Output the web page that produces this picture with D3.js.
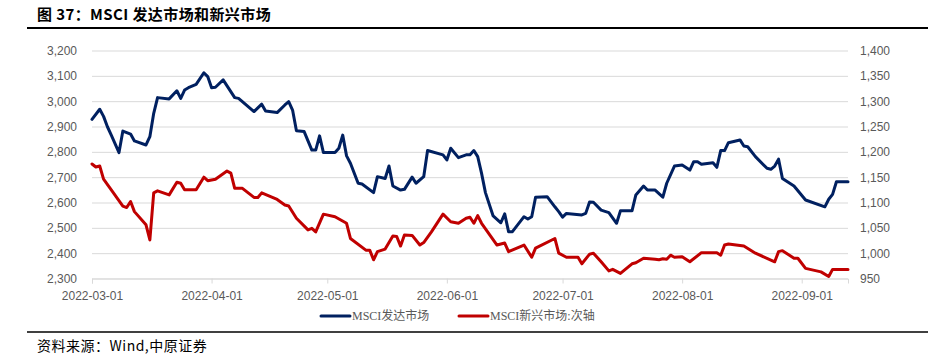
<!DOCTYPE html>
<html>
<head>
<meta charset="utf-8">
<script src="https://cdn.jsdelivr.net/npm/d3@7/dist/d3.min.js"></script>
<style>
  html, body { margin: 0; padding: 0; background: #fff; }
  svg { display: block; }
</style>
</head>
<body>
<svg id="chart" width="928" height="357"></svg>
<script>
// ---------- DATA ----------
const titleText = "图 37：MSCI 发达市场和新兴市场";
const sourceText = "资料来源：Wind,中原证券";
const seriesNames = ["MSCI发达市场", "MSCI新兴市场:次轴"];
const xTickDates = ["2022-03-01","2022-04-01","2022-05-01","2022-06-01","2022-07-01","2022-08-01","2022-09-01"];
const leftTicks = [2300,2400,2500,2600,2700,2800,2900,3000,3100,3200];
const rightTicks = [950,1000,1050,1100,1150,1200,1250,1300,1350,1400];

const developed = [
["2022-03-01",2928],["2022-03-03",2968],["2022-03-04",2940],["2022-03-05",2899],["2022-03-06",2866],
["2022-03-08",2797],["2022-03-09",2882],["2022-03-11",2870],["2022-03-12",2843],["2022-03-15",2827],
["2022-03-16",2860],["2022-03-17",2952],["2022-03-18",3014],["2022-03-21",3009],["2022-03-23",3041],
["2022-03-24",3011],["2022-03-25",3044],["2022-03-26",3053],["2022-03-28",3066],["2022-03-30",3112],
["2022-03-31",3097],["2022-04-01",3053],["2022-04-02",3055],["2022-04-04",3084],["2022-04-07",3014],
["2022-04-08",3011],["2022-04-12",2959],["2022-04-14",2988],["2022-04-15",2961],["2022-04-18",2955],
["2022-04-20",2985],["2022-04-21",2998],["2022-04-22",2965],["2022-04-23",2883],["2022-04-25",2880],
["2022-04-27",2807],["2022-04-28",2807],["2022-04-29",2863],["2022-04-30",2797],["2022-05-03",2797],
["2022-05-04",2814],["2022-05-05",2866],["2022-05-06",2784],["2022-05-07",2755],["2022-05-09",2676],
["2022-05-10",2673],["2022-05-13",2639],["2022-05-14",2702],["2022-05-16",2695],["2022-05-17",2744],
["2022-05-18",2665],["2022-05-20",2649],["2022-05-21",2652],["2022-05-23",2700],["2022-05-24",2676],
["2022-05-26",2702],["2022-05-27",2805],["2022-05-31",2788],["2022-06-01",2768],["2022-06-02",2814],
["2022-06-04",2777],["2022-06-06",2788],["2022-06-07",2788],["2022-06-08",2805],["2022-06-09",2781],
["2022-06-10",2715],["2022-06-11",2639],["2022-06-13",2547],["2022-06-15",2520],["2022-06-16",2555],
["2022-06-17",2485],["2022-06-18",2485],["2022-06-21",2544],["2022-06-22",2535],["2022-06-23",2544],
["2022-06-24",2621],["2022-06-27",2623],["2022-06-29",2583],["2022-06-30",2564],["2022-07-01",2542],
["2022-07-02",2557],["2022-07-06",2551],["2022-07-07",2557],["2022-07-08",2602],["2022-07-09",2601],
["2022-07-11",2570],["2022-07-13",2560],["2022-07-15",2518],["2022-07-16",2567],["2022-07-19",2567],
["2022-07-20",2630],["2022-07-22",2665],["2022-07-23",2649],["2022-07-25",2649],["2022-07-27",2621],
["2022-07-28",2676],["2022-07-30",2744],["2022-08-01",2748],["2022-08-03",2728],["2022-08-04",2761],
["2022-08-05",2761],["2022-08-06",2751],["2022-08-09",2757],["2022-08-10",2739],["2022-08-11",2805],
["2022-08-12",2805],["2022-08-13",2836],["2022-08-16",2847],["2022-08-17",2823],["2022-08-18",2820],
["2022-08-20",2781],["2022-08-23",2735],["2022-08-24",2731],["2022-08-25",2744],["2022-08-26",2771],
["2022-08-27",2695],["2022-08-30",2665],["2022-09-02",2610],["2022-09-07",2583],["2022-09-08",2613],
["2022-09-09",2632],["2022-09-10",2682],["2022-09-13",2682]
];

const emerging = [
["2022-03-01",1176],["2022-03-02",1170],["2022-03-03",1172],["2022-03-04",1146],["2022-03-06",1125],
["2022-03-09",1093],["2022-03-10",1090],["2022-03-11",1102],["2022-03-12",1082],["2022-03-15",1056],
["2022-03-16",1026],["2022-03-17",1119],["2022-03-18",1123],["2022-03-21",1115],["2022-03-23",1140],
["2022-03-24",1138],["2022-03-25",1125],["2022-03-28",1125],["2022-03-30",1150],["2022-03-31",1143],
["2022-04-02",1146],["2022-04-05",1162],["2022-04-06",1158],["2022-04-07",1128],["2022-04-09",1128],
["2022-04-12",1110],["2022-04-13",1110],["2022-04-14",1119],["2022-04-18",1106],["2022-04-20",1095],
["2022-04-21",1093],["2022-04-23",1069],["2022-04-26",1046],["2022-04-27",1049],["2022-04-28",1042],
["2022-04-30",1077],["2022-05-03",1072],["2022-05-06",1059],["2022-05-07",1029],["2022-05-11",1006],
["2022-05-12",1006],["2022-05-13",987],["2022-05-14",1003],["2022-05-16",1008],["2022-05-18",1034],
["2022-05-19",1033],["2022-05-20",1014],["2022-05-21",1036],["2022-05-23",1035],["2022-05-25",1016],
["2022-05-26",1021],["2022-05-28",1042],["2022-05-31",1077],["2022-06-02",1062],["2022-06-04",1059],
["2022-06-06",1069],["2022-06-07",1071],["2022-06-08",1059],["2022-06-09",1074],["2022-06-10",1059],
["2022-06-14",1016],["2022-06-16",1020],["2022-06-17",1003],["2022-06-21",1016],["2022-06-23",992],
["2022-06-24",1010],["2022-06-29",1029],["2022-06-30",1000],["2022-07-02",992],["2022-07-05",992],
["2022-07-06",979],["2022-07-08",998],["2022-07-09",1000],["2022-07-11",983],["2022-07-13",965],
["2022-07-14",968],["2022-07-16",960],["2022-07-19",979],["2022-07-20",981],["2022-07-22",990],
["2022-07-25",988],["2022-07-26",987],["2022-07-27",989],["2022-07-28",988],["2022-07-29",996],
["2022-07-30",992],["2022-08-01",993],["2022-08-03",983],["2022-08-06",1001],["2022-08-10",1001],
["2022-08-11",996],["2022-08-12",1016],["2022-08-13",1018],["2022-08-17",1014],["2022-08-20",1000],
["2022-08-25",983],["2022-08-26",1003],["2022-08-27",1005],["2022-08-30",990],["2022-08-31",990],
["2022-09-02",970],["2022-09-06",963],["2022-09-08",954],["2022-09-09",968],["2022-09-13",968]
];

// ---------- CHART ----------
const parse = d3.timeParse("%Y-%m-%d");
const svg = d3.select("#chart");
const W = 928, H = 357;
const plot = { left: 92, right: 848, top: 50.5, bottom: 278.5 };
const colors = ["#002060", "#C00000"];
const labelColor = "#595959";
const sansFont = "'Liberation Sans', Arial, sans-serif";

const x = d3.scaleTime()
  .domain([parse("2022-03-01"), parse("2022-09-13")])
  .range([plot.left, plot.right]);
const yL = d3.scaleLinear().domain([2300, 3200]).range([plot.bottom, plot.top]);
const yR = d3.scaleLinear().domain([950, 1400]).range([plot.bottom, plot.top]);

// Title
svg.append("text")
  .attr("x", 37).attr("y", 20)
  .attr("font-family", "'Noto Sans CJK SC', sans-serif")
  .attr("font-weight", "bold")
  .attr("font-size", 15)
  .attr("letter-spacing", 0.4)
  .attr("fill", "#000")
  .text(titleText);
svg.append("line")
  .attr("x1", 27).attr("x2", W).attr("y1", 28).attr("y2", 28)
  .attr("stroke", "#000").attr("stroke-width", 2);

// Gridlines (left axis)
svg.append("g")
  .attr("transform", `translate(${plot.left},0)`)
  .call(d3.axisLeft(yL).tickValues(leftTicks).tickSize(-(plot.right - plot.left)).tickFormat(""))
  .call(g => g.select(".domain").remove())
  .call(g => g.selectAll("line").attr("stroke", "#d9d9d9").attr("stroke-width", 1));

// Left tick labels
svg.append("g")
  .attr("transform", `translate(${plot.left},0)`)
  .call(d3.axisLeft(yL).tickValues(leftTicks).tickSize(0).tickPadding(15).tickFormat(d3.format(",")))
  .call(g => g.select(".domain").remove())
  .call(g => g.selectAll("text").attr("fill", labelColor).attr("font-size", 12).attr("font-family", sansFont));

// Right tick labels
svg.append("g")
  .attr("transform", `translate(${plot.right},0)`)
  .call(d3.axisRight(yR).tickValues(rightTicks).tickSize(0).tickPadding(12).tickFormat(d3.format(",")))
  .call(g => g.select(".domain").remove())
  .call(g => g.selectAll("text").attr("fill", labelColor).attr("font-size", 12).attr("font-family", sansFont));

// X axis
svg.append("g")
  .attr("transform", `translate(0,${plot.bottom})`)
  .call(d3.axisBottom(x).tickValues(xTickDates.map(parse)).tickSize(5).tickPadding(8).tickFormat(d3.timeFormat("%Y-%m-%d")))
  .call(g => g.select(".domain").attr("stroke", "#d9d9d9"))
  .call(g => g.selectAll(".tick line").attr("stroke", "#d9d9d9"))
  .call(g => g.selectAll("text").attr("fill", labelColor).attr("font-size", 12).attr("font-family", sansFont));

// Lines
const lineL = d3.line().x(d => x(parse(d[0]))).y(d => yL(d[1]));
const lineR = d3.line().x(d => x(parse(d[0]))).y(d => yR(d[1]));

svg.append("path").datum(emerging)
  .attr("d", lineR).attr("fill", "none")
  .attr("stroke", colors[1]).attr("stroke-width", 3)
  .attr("stroke-linejoin", "round").attr("stroke-linecap", "round");
svg.append("path").datum(developed)
  .attr("d", lineL).attr("fill", "none")
  .attr("stroke", colors[0]).attr("stroke-width", 3)
  .attr("stroke-linejoin", "round").attr("stroke-linecap", "round");

// Legend
const legendItems = [
  { name: seriesNames[0], color: colors[0], x: 321 },
  { name: seriesNames[1], color: colors[1], x: 459 }
];
const lg = svg.append("g");
legendItems.forEach(it => {
  lg.append("line")
    .attr("x1", it.x).attr("x2", it.x + 29).attr("y1", 316).attr("y2", 316)
    .attr("stroke", it.color).attr("stroke-width", 3).attr("stroke-linecap", "round");
  lg.append("text")
    .attr("x", it.x + 31).attr("y", 320)
    .attr("font-family", "'Liberation Serif', 'Noto Sans CJK SC', serif")
    .attr("font-size", 12)
    .attr("fill", labelColor)
    .text(it.name);
});

// Source
svg.append("line")
  .attr("x1", 27).attr("x2", W).attr("y1", 332).attr("y2", 332)
  .attr("stroke", "#000").attr("stroke-width", 1.5);
svg.append("text")
  .attr("x", 37).attr("y", 351)
  .attr("font-family", "'Noto Sans CJK SC', sans-serif")
  .attr("font-size", 14)
  .attr("letter-spacing", 0.5)
  .attr("fill", "#000")
  .text(sourceText);
</script>
</body>
</html>
